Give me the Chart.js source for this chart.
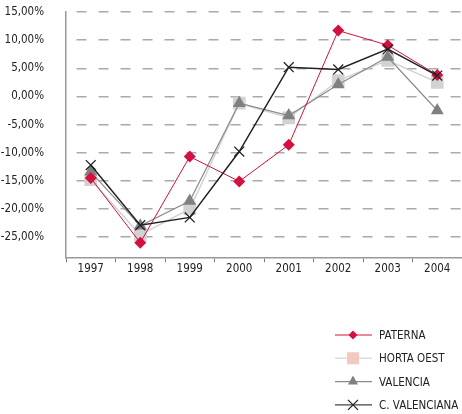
<!DOCTYPE html>
<html>
<head>
<meta charset="utf-8">
<script src="https://cdn.jsdelivr.net/npm/chart.js@4/dist/chart.umd.min.js"></script>
<style>
  html, body { margin: 0; padding: 0; background: #fff; }
  #wrap { width: 462px; height: 414px; position: relative; }
</style>
</head>
<body>
<div id="wrap"><canvas id="line-chart"></canvas></div>
<script>
const years = ["1997", "1998", "1999", "2000", "2001", "2002", "2003", "2004"];
const paterna      = [-14.5, -26.0, -10.7, -15.1, -8.6, 11.7, 9.1, 3.8];
const hortaOest    = [-14.8, -24.6, -20.0, -1.2, -3.8, 2.8, 6.4, 2.5];
const valencia     = [-13.4, -23.0, -18.6, -1.2, -3.4, 2.1, 7.0, -2.5];
const cValenciana  = [-12.2, -22.9, -21.5, -9.8, 5.2, 4.8, 8.4, 3.7];
const yTicks = [-25, -20, -15, -10, -5, 0, 5, 10, 15];

const FONT = "'DejaVu Sans Condensed', 'Liberation Sans', sans-serif";

// legend drawn by hand: line sample with marker in the middle
const legendItems = [
  { label: "PATERNA", line: "#d4103f", lw: 1, marker: "diamond", fill: "#d4103f" },
  { label: "HORTA OEST", line: "#dcdcdc", lw: 1.5, marker: "square", fill: "#f2c8c0" },
  { label: "VALENCIA", line: "#8a8a8a", lw: 1.2, marker: "triangle", fill: "#808080" },
  { label: "C. VALENCIANA", line: "#444", lw: 1.2, marker: "cross", fill: "#222" }
];

const legendPlugin = {
  id: 'sideLegend',
  afterDraw(chart) {
    const ctx = chart.ctx;
    ctx.save();
    legendItems.forEach((it, i) => {
      const y = 335 + i * 23.3;
      ctx.strokeStyle = it.line;
      ctx.lineWidth = it.lw;
      ctx.beginPath();
      ctx.moveTo(335, y);
      ctx.lineTo(372, y);
      ctx.stroke();
      const cx = 353;
      ctx.fillStyle = it.fill;
      ctx.strokeStyle = it.fill;
      ctx.beginPath();
      if (it.marker === "diamond") {
        ctx.moveTo(cx, y - 4.5); ctx.lineTo(cx + 4.5, y); ctx.lineTo(cx, y + 4.5); ctx.lineTo(cx - 4.5, y);
        ctx.closePath(); ctx.fill();
      } else if (it.marker === "square") {
        ctx.rect(cx - 6, y - 6, 12, 12); ctx.fill();
      } else if (it.marker === "triangle") {
        ctx.moveTo(cx, y - 6); ctx.lineTo(cx + 5, y + 3); ctx.lineTo(cx - 5, y + 3);
        ctx.closePath(); ctx.fill();
      } else {
        ctx.lineWidth = 1.3;
        ctx.moveTo(cx - 5, y - 5); ctx.lineTo(cx + 5, y + 5);
        ctx.moveTo(cx + 5, y - 5); ctx.lineTo(cx - 5, y + 5);
        ctx.stroke();
      }
      ctx.fillStyle = "#222";
      ctx.font = "11.5px " + FONT;
      ctx.textBaseline = "middle";
      ctx.textAlign = "left";
      ctx.fillText(it.label, 379, y + 1);
    });
    ctx.restore();
  }
};

new Chart(document.getElementById("line-chart"), {
  type: 'line',
  data: {
    labels: years,
    datasets: [
      {
        label: "PATERNA", data: paterna, order: 1,
        borderColor: "#d4103f", borderWidth: 1, backgroundColor: "#d4103f",
        pointStyle: 'rectRot', pointRadius: 6, pointBorderWidth: 0
      },
      {
        label: "HORTA OEST", data: hortaOest, order: 3,
        borderColor: "#d2d2d2", borderWidth: 1.5, backgroundColor: "#d2d2d2",
        pointStyle: 'rect', pointRadius: 9, pointBorderWidth: 0
      },
      {
        label: "VALENCIA", data: valencia, order: 2,
        borderColor: "#8a8a8a", borderWidth: 1.2, backgroundColor: "#808080",
        pointStyle: 'triangle', pointRadius: 7.5, pointBorderWidth: 0
      },
      {
        label: "C. VALENCIANA", data: cValenciana, order: 0,
        borderColor: "#222", borderWidth: 1.5, backgroundColor: "#222",
        pointStyle: 'crossRot', pointRadius: 7, pointBorderColor: "#222", pointBorderWidth: 1.3
      }
    ]
  },
  options: {
    responsive: true,
    maintainAspectRatio: false,
    animation: false,
    layout: { autoPadding: false, padding: { top: 12, right: 0, bottom: 138, left: 0 } },
    plugins: {
      legend: { display: false },
      tooltip: { enabled: false }
    },
    scales: {
      x: {
        offset: true,
        grid: { display: true, drawOnChartArea: false, drawTicks: true, tickLength: 4, color: "#777", offset: true },
        border: { display: true, color: "#999", width: 1.5 },
        ticks: { color: "#222", font: { family: FONT, size: 11.5 }, padding: 0, maxRotation: 0 }
      },
      y: {
        min: -28.75,
        max: 15,
        afterBuildTicks: (s) => { s.ticks = yTicks.map(v => ({ value: v })); },
        afterFit: (s) => { s.width = 66; },
        // invisible tick marks give the gap between labels and axis
        grid: { color: "#aaa", lineWidth: 1.5, drawTicks: true, tickLength: 22, tickColor: "rgba(0,0,0,0)" },
        border: { display: true, color: "#999", width: 1.5, dash: [10, 12], dashOffset: 12 },
        ticks: {
          color: "#222", font: { family: FONT, size: 11.5 }, padding: 0,
          callback: (v) => v.toFixed(2).replace('.', ',') + '%'
        }
      }
    }
  },
  plugins: [legendPlugin]
});
</script>
</body>
</html>
